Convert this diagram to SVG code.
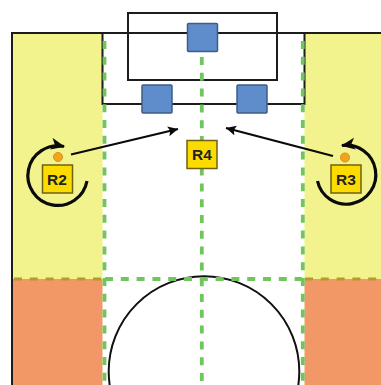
<svg xmlns="http://www.w3.org/2000/svg" width="381" height="385" viewBox="0 0 381 385">
<style>
.ln{fill:none;stroke:#1c1c1c;stroke-width:2}
.gd{fill:none;stroke:#70c55c;stroke-width:3.8;stroke-dasharray:8 7.800}
.ol{fill:none;stroke:#b59a30;stroke-width:2.800;stroke-dasharray:8 7.800}
.blue{fill:#5f8ccb;stroke:#3f5c86;stroke-width:1.500}
.robot{fill:#fcdc00;stroke:#6f6012;stroke-width:1.500}
.dot{fill:#f2a51c;stroke:#d98f1a;stroke-width:1}
.lab{font-family:"Liberation Sans",Arial,sans-serif;font-weight:700;font-size:15.500px;fill:#222;text-anchor:middle}
.arc{fill:none;stroke:#0a0a0a;stroke-width:3.200}
.arr{fill:none;stroke:#0a0a0a;stroke-width:2.300}
</style>
<defs>
<marker id="head" markerUnits="userSpaceOnUse" markerWidth="11" markerHeight="11" refX="10" refY="5" orient="auto"><path d="M0 0L10 5L0 10L2 5Z" fill="#0a0a0a"/></marker>
<marker id="headL" markerUnits="userSpaceOnUse" markerWidth="15" markerHeight="13" refX="13" refY="6" orient="auto"><path d="M0 0L14 6L0 12L3.500 6Z" fill="#0a0a0a"/></marker>
</defs>
<g id="field">
<rect x="12" y="33" width="90.500" height="246" fill="#f2f38c"/>
<rect x="304.500" y="33" width="76.500" height="246" fill="#f2f38c"/>
<rect x="12" y="279" width="90.500" height="106" fill="#f29766"/>
<rect x="304.500" y="279" width="76.500" height="106" fill="#f29766"/>
<path class="ln" d="M12 385V33H381M102.500 33V104H304.500V33"/>
<rect class="ln" x="128" y="13" width="149" height="67"/>
<circle cx="204" cy="371.500" r="95.300" fill="none" stroke="#111" stroke-width="2"/>
</g>
<g id="connectors">
<path class="gd" d="M104.500 41V385"/>
<path class="gd" d="M201.800 57V385"/>
<path class="gd" d="M302.800 41V385"/>
<path class="ol" d="M14 279H102"/>
<path class="ol" d="M305 279H381"/>
<path class="gd" d="M105 279H302"/>
<path class="arr" marker-end="url(#head)" d="M71 154.500L178 129"/>
<path class="arr" marker-end="url(#head)" d="M333 156L226 128"/>
<path class="arc" marker-end="url(#headL)" d="M87 181A29.800 29.800 0 1 1 64 146.500"/>
<path class="arc" marker-end="url(#headL)" d="M317.500 181A29.500 29.500 0 1 0 342 145.500"/>
</g>
<g id="box-top"><rect class="blue" x="187.500" y="23.500" width="30" height="28" rx="1"/></g>
<g id="box-left"><rect class="blue" x="142" y="85" width="30" height="28" rx="1"/></g>
<g id="box-right"><rect class="blue" x="237" y="85" width="30" height="28" rx="1"/></g>
<g id="R2"><circle class="dot" cx="58" cy="157" r="4.500"/><rect class="robot" x="42.500" y="165" width="30" height="28"/><text class="lab" x="57" y="185">R2</text></g>
<g id="R3"><circle class="dot" cx="345" cy="157.500" r="4.500"/><rect class="robot" x="331" y="165" width="30" height="28"/><text class="lab" x="346" y="185">R3</text></g>
<g id="R4"><rect class="robot" x="187" y="140.500" width="30" height="28"/><text class="lab" x="202" y="160">R4</text></g>
</svg>
